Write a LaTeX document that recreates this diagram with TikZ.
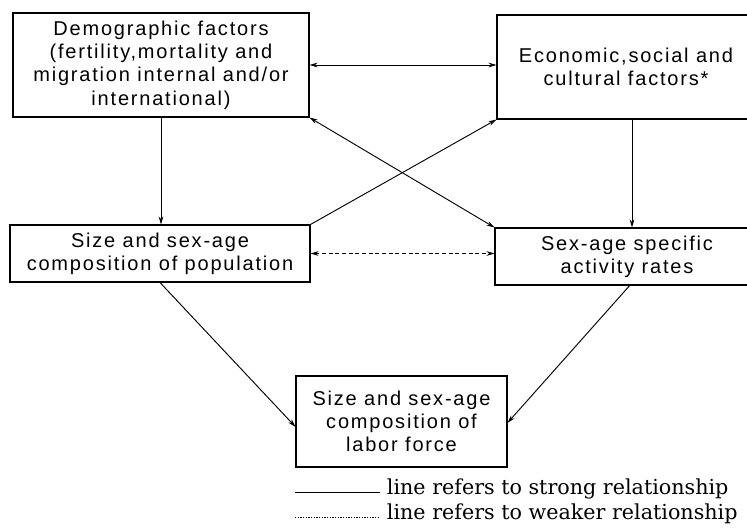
\documentclass[tikz,border=0pt]{standalone}
\usepackage{fontspec}
\usepackage{tikz}
\usetikzlibrary{arrows.meta, positioning, calc}
\newfontfamily\boxfont[LetterSpace=9]{Liberation Sans}
\newfontfamily\keyfont{DejaVu Serif}

\tikzset{
    factor/.style={draw, line width=0.8pt, align=center, inner sep=0pt,
        font=\boxfont\fontsize{15}{17.5}\selectfont},
    link/.style={line width=0.7pt, -{Stealth[length=6pt, width=3.5pt]}},
    twoway/.style={line width=0.7pt, {Stealth[length=6pt, width=3.5pt]}-{Stealth[length=6pt, width=3.5pt]}},
    weak/.style={dash pattern=on 3pt off 2pt},
    keytext/.style={anchor=west, inner sep=5pt, font=\keyfont\fontsize{15.5}{18}\selectfont}
}

\begin{document}
\begin{tikzpicture}[x=0.75pt, y=-0.75pt]
    \useasboundingbox (0,0) rectangle (747,528);

    \node[factor, minimum width=222pt, minimum height=78pt] (demo) at (161,65)
        {Demographic factors\\(fertility,mortality and\\migration internal and/or\\international)};
    \node[factor, minimum width=193.5pt, minimum height=78pt] (econ) at (626,67)
        {Economic,social and\\cultural factors*};
    \node[factor, minimum width=225pt, minimum height=42.75pt] (pop) at (160,253.5)
        {Size and sex-age\\composition of population};
    \node[factor, minimum width=198pt, minimum height=42.75pt] (rates) at (627,256.5)
        {Sex-age specific\\activity rates};
    \node[factor, minimum width=158.25pt, minimum height=68.25pt] (labor) at (401.5,421.5)
        {Size and sex-age\\composition of\\labor force};

    % strong relationships
    \draw[twoway] (demo.east) -- (demo.east -| econ.west);
    \draw[link] (demo.south) -- (demo.south |- pop.north);
    \draw[link] ([xshift=4.5pt]econ.south) -- ([xshift=4.5pt]econ.south |- rates.north);
    \draw[twoway] (demo.south east) -- (rates.north west);
    \draw[link] (pop.north east) -- (econ.south west);
    \draw[link] (pop.south) -- ([yshift=-4pt]labor.west);
    \draw[link] ([xshift=2pt]rates.south) -- ([yshift=-1pt]labor.east);

    % weaker relationship
    \draw[twoway, weak] (pop.east) -- (pop.east -| rates.west);

    % key
    \coordinate (keysolid) at (295,492);
    \coordinate (keydash) at (295,517);
    \node[keytext] (keystrong) at (380,489) {line refers to strong relationship};
    \node[keytext] (keyweak) at (380,514) {line refers to weaker relationship};
    \draw[line width=0.5pt] (keysolid) -- (keysolid -| keystrong.west);
    \draw[line width=0.5pt, dash pattern=on 1pt off 1pt] (keydash) -- (keydash -| keyweak.west);
\end{tikzpicture}
\end{document}
